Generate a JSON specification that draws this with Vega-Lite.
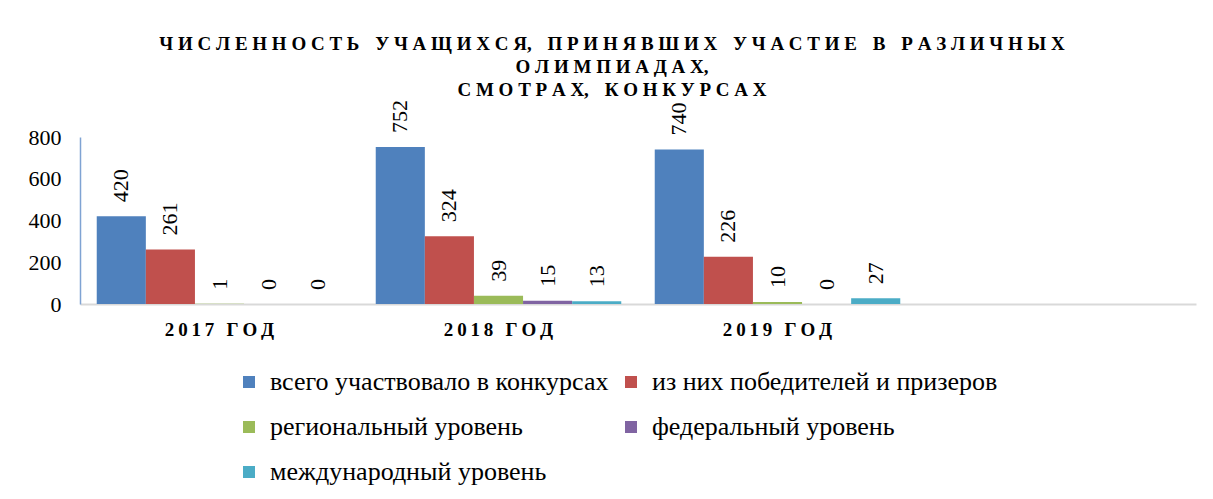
{
  "$schema": "https://vega.github.io/schema/vega-lite/v6.json",
  "width": 1116,
  "height": 167,
  "autosize": {"type": "none"},
  "padding": {"left": 80, "top": 137, "right": 17, "bottom": 195},
  "background": "white",
  "title": {
    "text": [
      "Ч\u2005И\u2005С\u2005Л\u2005Е\u2005Н\u2005Н\u2005О\u2005С\u2005Т\u2005Ь\u2002\u2004У\u2005Ч\u2005А\u2005Щ\u2005И\u2005Х\u2005С\u2005Я,\u2002\u2004П\u2005Р\u2005И\u2005Н\u2005Я\u2005В\u2005Ш\u2005И\u2005Х\u2002\u2004У\u2005Ч\u2005А\u2005С\u2005Т\u2005И\u2005Е\u2002\u2004В\u2002\u2004Р\u2005А\u2005З\u2005Л\u2005И\u2005Ч\u2005Н\u2005Ы\u2005Х",
      "О\u2005Л\u2005И\u2005М\u2005П\u2005И\u2005А\u2005Д\u2005А\u2005Х,",
      "С\u2005М\u2005О\u2005Т\u2005Р\u2005А\u2005Х,\u2002\u2004К\u2005О\u2005Н\u2005К\u2005У\u2005Р\u2005С\u2005А\u2005Х"
    ],
    "font": "Liberation Serif",
    "fontSize": 19,
    "fontWeight": "bold",
    "color": "#000000",
    "anchor": "middle",
    "frame": "group",
    "dx": -26,
    "offset": 0,
    "lineHeight": 23
  },
  "data": {
    "values": [
      {"year": "2017 ГОД", "series": "всего участвовало в конкурсах", "value": 420},
      {"year": "2017 ГОД", "series": "из них победителей и призеров", "value": 261},
      {"year": "2017 ГОД", "series": "региональный уровень", "value": 1},
      {"year": "2017 ГОД", "series": "федеральный уровень", "value": 0},
      {"year": "2017 ГОД", "series": "международный уровень", "value": 0},
      {"year": "2018 ГОД", "series": "всего участвовало в конкурсах", "value": 752},
      {"year": "2018 ГОД", "series": "из них победителей и призеров", "value": 324},
      {"year": "2018 ГОД", "series": "региональный уровень", "value": 39},
      {"year": "2018 ГОД", "series": "федеральный уровень", "value": 15},
      {"year": "2018 ГОД", "series": "международный уровень", "value": 13},
      {"year": "2019 ГОД", "series": "всего участвовало в конкурсах", "value": 740},
      {"year": "2019 ГОД", "series": "из них победителей и призеров", "value": 226},
      {"year": "2019 ГОД", "series": "региональный уровень", "value": 10},
      {"year": "2019 ГОД", "series": "федеральный уровень", "value": 0},
      {"year": "2019 ГОД", "series": "международный уровень", "value": 27}
    ]
  },
  "encoding": {
    "x": {
      "field": "year",
      "type": "nominal",
      "scale": {"domain": ["2017 ГОД", "2018 ГОД", "2019 ГОД", " "], "paddingInner": 0.12, "paddingOuter": 0.06},
      "axis": {
        "title": null,
        "labelAngle": 0,
        "ticks": false,
        "tickSize": 0,
        "labelPadding": 16,
        "labelFont": "Liberation Serif",
        "labelFontSize": 19,
        "labelFontWeight": "bold",
        "labelColor": "#000000",
        "labelExpr": "join(split(datum.value, ''), '\u2009')",
        "domainColor": "#D9D9D9",
        "domainWidth": 2
      }
    },
    "xOffset": {
      "field": "series",
      "type": "nominal",
      "scale": {
        "domain": ["всего участвовало в конкурсах", "из них победителей и призеров", "региональный уровень", "федеральный уровень", "международный уровень"],
        "paddingInner": 0,
        "paddingOuter": 0
      }
    },
    "y": {
      "field": "value",
      "type": "quantitative",
      "scale": {"domain": [0, 800], "nice": false},
      "axis": {
        "title": null,
        "values": [0, 200, 400, 600, 800],
        "ticks": false,
        "tickSize": 0,
        "grid": false,
        "labelPadding": 19,
        "labelFont": "Liberation Serif",
        "labelFontSize": 22,
        "labelColor": "#000000",
        "domainColor": "#7FA3D3",
        "domainWidth": 1.5
      }
    }
  },
  "layer": [
    {
      "mark": {"type": "bar"},
      "encoding": {
        "color": {
          "field": "series",
          "type": "nominal",
          "scale": {
            "domain": ["всего участвовало в конкурсах", "из них победителей и призеров", "региональный уровень", "федеральный уровень", "международный уровень"],
            "range": ["#4F81BD", "#C0504D", "#9BBB59", "#8064A2", "#4BACC6"]
          },
          "legend": {
            "title": null,
            "orient": "none",
            "legendX": 156,
            "legendY": 232,
            "columns": 2,
            "direction": "horizontal",
            "symbolType": "square",
            "symbolSize": 144,
            "symbolStrokeWidth": 0,
            "labelFont": "Liberation Serif",
            "labelFontSize": 26,
            "labelColor": "#000000",
            "labelLimit": 0,
            "labelOffset": 8,
            "rowPadding": 19,
            "columnPadding": 9,
            "padding": 0
          }
        }
      }
    },
    {
      "mark": {
        "type": "text",
        "angle": 270,
        "align": "left",
        "baseline": "middle",
        "dx": 14,
        "font": "Liberation Serif",
        "fontSize": 22,
        "color": "#000000"
      },
      "encoding": {
        "text": {"field": "value", "type": "quantitative"}
      }
    }
  ],
  "config": {
    "view": {"stroke": null},
    "axis": {"grid": false}
  }
}
